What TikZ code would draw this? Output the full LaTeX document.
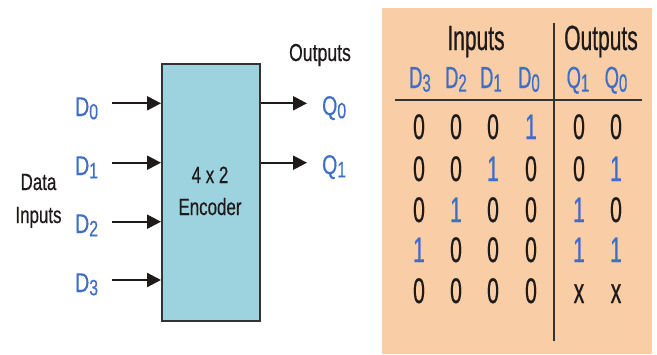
\documentclass[tikz,border=0pt]{standalone}
\usepackage{fontspec}
\setmainfont{Liberation Sans}
\newfontfamily\leftfont[FakeStretch=0.72,FakeBold=0.4]{Liberation Sans}
\newfontfamily\tabfont[FakeStretch=0.6,FakeBold=0.5]{Liberation Sans}
\usetikzlibrary{arrows.meta}
\definecolor{peach}{HTML}{F9CDA5}
\definecolor{boxfill}{HTML}{9DD3DF}
\definecolor{sigblue}{HTML}{3F6EC6}
\definecolor{ink}{HTML}{1E1A1A}
\definecolor{rule}{HTML}{333333}
\newcommand\lsub[1]{\raisebox{-0.12em}{\scalebox{0.82}{#1}}}
\tikzset{
  sig/.style={anchor=base west, inner sep=0pt, text=sigblue, font=\leftfont\fontsize{27}{27}\selectfont},
  lbl/.style={anchor=base, inner sep=0pt, text=ink, font=\leftfont\fontsize{23.5}{23.5}\selectfont},
  wire/.style={draw=ink, line width=2.2pt, -{Triangle[length=14pt,width=14pt]}},
  thead/.style={anchor=base, inner sep=0pt, text=ink, font=\tabfont\fontsize{35}{35}\selectfont},
  tsub/.style={anchor=base, inner sep=0pt, text=sigblue, font=\tabfont\fontsize{30.5}{30.5}\selectfont},
  dz/.style={anchor=base, inner sep=0pt, text=ink, font=\tabfont\fontsize{35.5}{35.5}\selectfont},
  done/.style={dz, text=sigblue},
  trule/.style={draw=rule, line width=1.6pt},
}
\begin{document}
\begin{tikzpicture}[x=1pt,y=-1pt]
\useasboundingbox (0,0) rectangle (657,354);
% encoder block
\node[draw=rule, line width=1.6pt, fill=boxfill, minimum width=98pt, minimum height=257pt, inner sep=0pt, anchor=north west] (enc) at (161,63) {};
\node[lbl] (t1) at (210,183) {4 x 2};
\node[lbl] (t2) at (210,215) {Encoder};
% input labels
\node[sig] (d0) at (75,116) {D\lsub{0}};
\node[sig] (d1) at (75,175) {D\lsub{1}};
\node[sig] (d2) at (75,233) {D\lsub{2}};
\node[sig] (d3) at (75,292) {D\lsub{3}};
\coordinate (i0) at (112,103.3);
\coordinate (i1) at (112,162.7);
\coordinate (i2) at (112,221.7);
\coordinate (i3) at (112,280);
\draw[wire] (i0) -- (i0 -| enc.west);
\draw[wire] (i1) -- (i1 -| enc.west);
\draw[wire] (i2) -- (i2 -| enc.west);
\draw[wire] (i3) -- (i3 -| enc.west);
\node[lbl] (data) at (38.5,190) {Data};
\node[lbl] (inp) at (38.5,223) {Inputs};
% outputs
\node[lbl, font=\leftfont\fontsize{24.5}{24.5}\selectfont] (outs) at (320,61) {Outputs};
\node[sig] (q0) at (322,115) {Q\lsub{0}};
\node[sig] (q1) at (322,174) {Q\lsub{1}};
\coordinate (o0) at (307,103.3);
\coordinate (o1) at (307,162.7);
\draw[wire] (o0 -| enc.east) -- (o0);
\draw[wire] (o1 -| enc.east) -- (o1);
% truth table
\fill[peach] (382,8) rectangle (652,354);
\coordinate (hl) at (395,100);
\coordinate (hr) at (642,100);
\coordinate (vt) at (554,23);
\coordinate (vb) at (554,341);
\draw[trule] (hl) -- (hr);
\draw[trule] (vt) -- (vb);
\node[thead] (hin) at (476,50) {Inputs};
\node[thead] (hout) at (601,50) {Outputs};
\node[tsub] (s3) at (420,88) {D\lsub{3}};
\node[tsub] (s2) at (456,88) {D\lsub{2}};
\node[tsub] (s1) at (491,88) {D\lsub{1}};
\node[tsub] (s0) at (529,88) {D\lsub{0}};
\node[tsub] (sq1) at (578,88) {Q\lsub{1}};
\node[tsub] (sq0) at (616,88) {Q\lsub{0}};
% rows
\node[dz] (r1a) at (419,139) {0};
\node[dz] (r1b) at (456,139) {0};
\node[dz] (r1c) at (493,139) {0};
\node[done] (r1d) at (531,139) {1};
\node[dz] (r1e) at (579,139) {0};
\node[dz] (r1f) at (616,139) {0};
\node[dz] (r2a) at (419,181) {0};
\node[dz] (r2b) at (456,181) {0};
\node[done] (r2c) at (493,181) {1};
\node[dz] (r2d) at (531,181) {0};
\node[dz] (r2e) at (579,181) {0};
\node[done] (r2f) at (616,181) {1};
\node[dz] (r3a) at (419,222) {0};
\node[done] (r3b) at (456,222) {1};
\node[dz] (r3c) at (493,222) {0};
\node[dz] (r3d) at (531,222) {0};
\node[done] (r3e) at (579,222) {1};
\node[dz] (r3f) at (616,222) {0};
\node[done] (r4a) at (419,262) {1};
\node[dz] (r4b) at (456,262) {0};
\node[dz] (r4c) at (493,262) {0};
\node[dz] (r4d) at (531,262) {0};
\node[done] (r4e) at (579,262) {1};
\node[done] (r4f) at (616,262) {1};
\node[dz] (r5a) at (419,303) {0};
\node[dz] (r5b) at (456,303) {0};
\node[dz] (r5c) at (493,303) {0};
\node[dz] (r5d) at (531,303) {0};
\node[dz] (r5e) at (579,303) {x};
\node[dz] (r5f) at (616,303) {x};
\end{tikzpicture}
\end{document}
